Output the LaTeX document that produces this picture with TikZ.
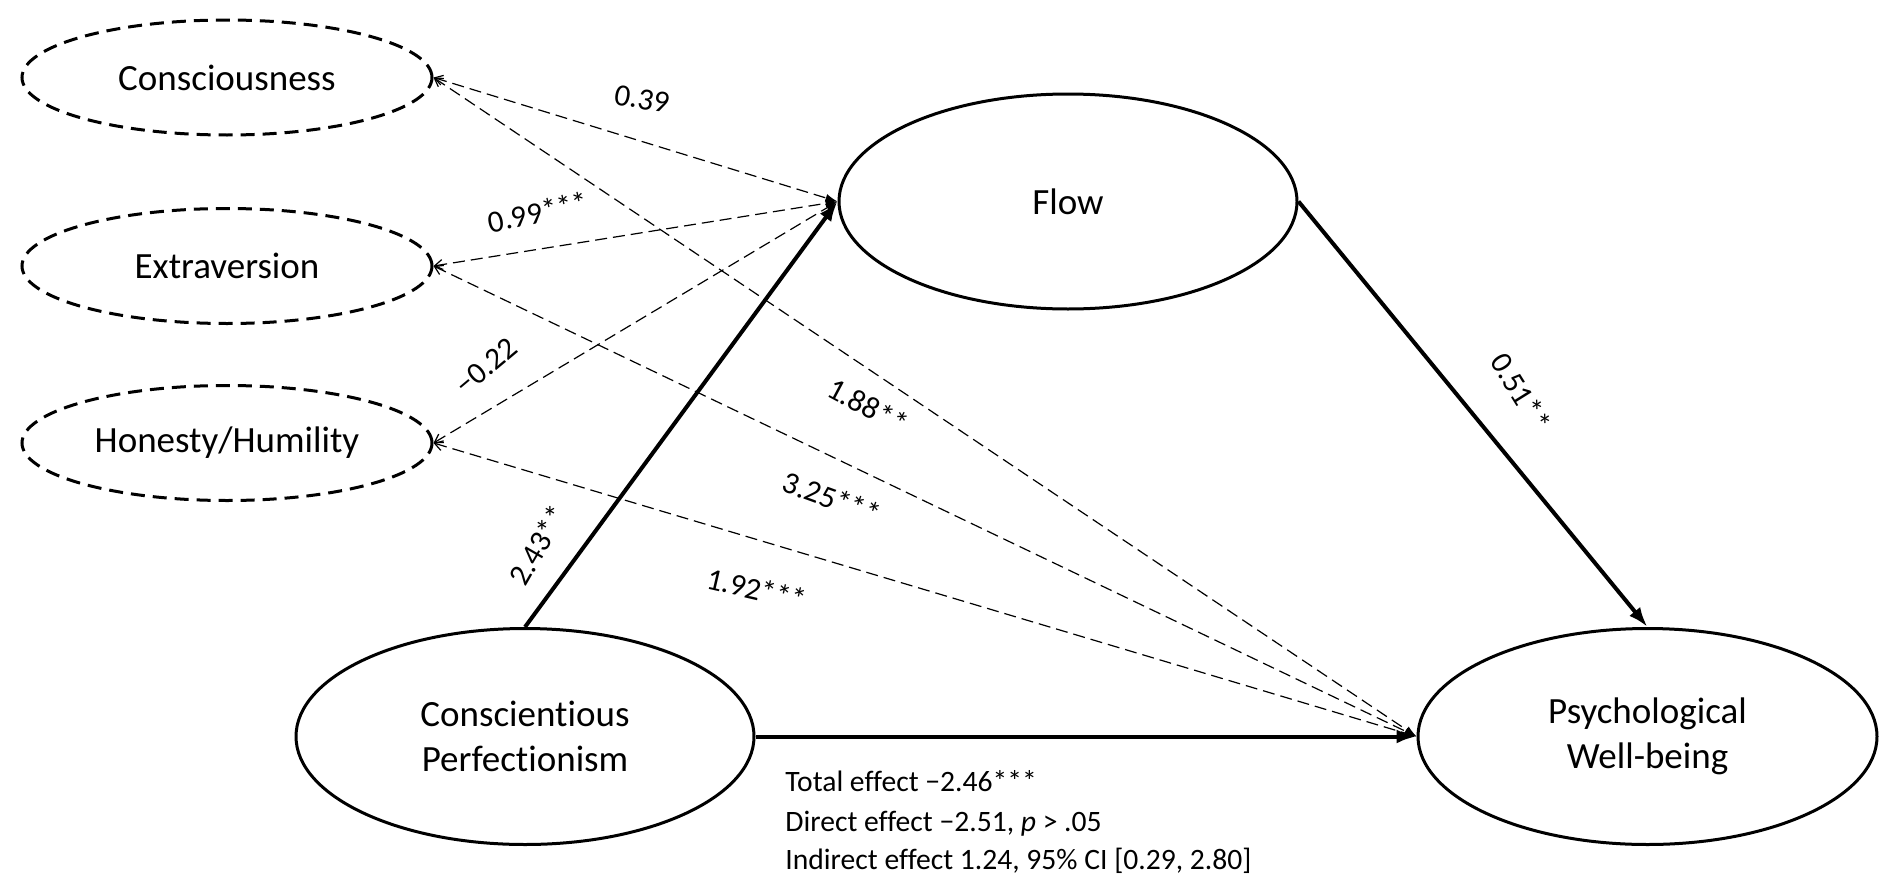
\documentclass[tikz,border=0pt]{standalone}
\usepackage{fontspec}
\setmainfont{Carlito}[Ligatures={NoCommon}]
\usetikzlibrary{arrows.meta,shapes.geometric}
\begin{document}
\begin{tikzpicture}[x=0.5pt,y=-0.5pt,
  lat/.style={ellipse, draw, line width=1.5pt, inner sep=0pt, align=center, font=\fontsize{18.5}{22.5}\selectfont},
  obs/.style={ellipse, draw, line width=1.5pt, dash pattern=on 7pt off 4pt, inner sep=0pt, font=\fontsize{18.5}{22.5}\selectfont, minimum width=205pt, minimum height=57.5pt},
  thickarrow/.style={line width=2pt, -{Latex[length=10pt,width=7pt]}},
  dasharrow/.style={line width=0.6pt, dash pattern=on 6pt off 3pt, {Straight Barb[length=4pt,width=5pt]}-{Latex[length=6pt,width=4pt]}},
  lbl/.style={font=\fontsize{15.5}{18}\selectfont, inner sep=1pt},
  note/.style={font=\fontsize{14.8}{18}\selectfont, anchor=base west, inner sep=0pt}
]
\useasboundingbox (0,0) rectangle (1890,894);

\node[obs] (con) at (227,77.5) {Consciousness};
\node[obs] (ext) at (227,266) {Extraversion};
\node[obs] (hon) at (227,443) {Honesty/Humility};
\node[lat, minimum width=229pt, minimum height=107.5pt] (flow) at (1068,201.5) {Flow};
\node[lat, minimum width=229pt, minimum height=108pt] (cp) at (525,736.5) {Conscientious\\Perfectionism};
\node[lat, minimum width=229.5pt, minimum height=108pt] (pwb) at (1647.5,736.5) {Psychological\\Well-being};

\draw[dasharrow] (con.east) -- (flow.west);
\draw[dasharrow] (ext.east) -- (flow.west);
\draw[dasharrow] (hon.east) -- (flow.west);
\draw[dasharrow] (con.east) -- (pwb.west);
\draw[dasharrow] (ext.east) -- (pwb.west);
\draw[dasharrow] (hon.east) -- (pwb.west);
\draw[thickarrow] (cp.north) -- (flow.west);
\draw[thickarrow] (flow.east) -- (pwb.north);
\draw[thickarrow] (cp.east) -- (pwb.west);

\node[lbl, rotate=-10] (l1) at (642,99) {0.39};
\node[lbl, rotate=12] (l2) at (538,212) {0.99***};
\node[lbl, rotate=40] (l3) at (486,366) {−0.22};
\node[lbl, rotate=-28] (l4) at (868,406) {1.88**};
\node[lbl, rotate=-20] (l5) at (832,498) {3.25***};
\node[lbl, rotate=-13] (l6) at (757,589) {1.92***};
\node[lbl, rotate=60] (l7) at (538,545) {2.43**};
\node[lbl, rotate=-58] (l8) at (1521,392) {0.51**};

\node[note] (t1) at (785,791) {Total effect −2.46***};
\node[note] (t2) at (785,831) {Direct effect −2.51, \textit{p} > .05};
\node[note] (t3) at (785,869) {Indirect effect 1.24, 95\% CI [0.29, 2.80]};
\end{tikzpicture}
\end{document}
